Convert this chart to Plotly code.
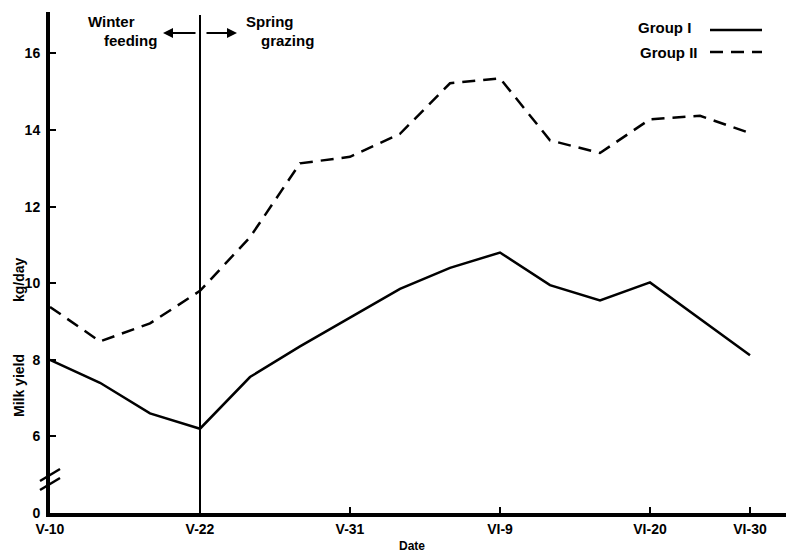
import plotly.graph_objects as go

# ---- data ----
x_index = list(range(15))
tick_positions = [0, 3, 6, 9, 12, 14]
tick_labels = ["V-10", "V-22", "V-31", "VI-9", "VI-20", "VI-30"]
group1 = [8.0, 7.4, 6.6, 6.2, 7.55, 8.35, 9.1, 9.85, 10.4, 10.8, 9.95, 9.55, 10.02, 9.07, 8.12]
group2 = [9.38, 8.48, 8.95, 9.8, 11.2, 13.13, 13.3, 13.9, 15.22, 15.35, 13.73, 13.4, 14.28, 14.37, 13.92]
y_tickvals = [4, 6, 8, 10, 12, 14, 16]
y_ticktext = ["0", "6", "8", "10", "12", "14", "16"]
switch_x = 3  # V-22

OFF = 8  # page body margin
W, H = 794 - OFF, 555 - OFF
L, R, T = 50 - OFF, 4, 12 - OFF
B = H - (513 - OFF)
PW, PH = W - L - R, H - T - B

def px(xp):
    return (xp - OFF - L) / PW

def py(yp):
    return (H - B - (yp - OFF)) / PH

FONT = "Liberation Sans"
DASH = "13px,8px"

fig = go.Figure()
fig.add_trace(go.Scatter(x=x_index, y=group1, mode="lines",
                         line=dict(color="black", width=2.5), showlegend=False))
fig.add_trace(go.Scatter(x=x_index, y=group2, mode="lines",
                         line=dict(color="black", width=2.5, dash=DASH), showlegend=False))

shapes = []
# switch line
shapes.append(dict(type="line", xref="x", yref="paper", x0=switch_x, x1=switch_x,
                   y0=0, y1=py(15), line=dict(color="black", width=2)))
# axis break slashes
for off in (0, 9):
    shapes.append(dict(type="line", xref="paper", yref="paper",
                       x0=px(40), y0=py(481 + off), x1=px(60), y1=py(469 + off),
                       line=dict(color="black", width=2.5)))
# legend lines
shapes.append(dict(type="line", xref="paper", yref="paper", x0=px(710), x1=px(762),
                   y0=py(30), y1=py(30), line=dict(color="black", width=2.5)))
shapes.append(dict(type="line", xref="paper", yref="paper", x0=px(710), x1=px(762),
                   y0=py(52), y1=py(52), line=dict(color="black", width=2.5, dash=DASH)))

annotations = []
def txt(s, x, y, size=15, angle=0):
    annotations.append(dict(text=s, xref="paper", yref="paper", x=px(x), y=py(y),
                            xanchor="center", yanchor="middle", showarrow=False,
                            textangle=angle,
                            font=dict(family=FONT, size=size, color="black", weight="bold")))

txt("Winter", 111, 21)
txt("feeding", 130, 41)
txt("Spring", 270, 21)
txt("grazing", 287, 41)
txt("Group I", 664, 28, size=15)
txt("Group II", 669, 52, size=15)
txt("Date", 412, 546, size=12)
txt("Milk yield", 19, 386, size=14, angle=-90)
txt("kg/day", 19, 280, size=14, angle=-90)

# arrows
annotations.append(dict(text="", xref="paper", yref="paper", x=px(163), y=py(33),
                        ax=34, ay=0, showarrow=True, arrowhead=2, arrowsize=1,
                        arrowwidth=2, arrowcolor="black"))
annotations.append(dict(text="", xref="paper", yref="paper", x=px(237), y=py(33),
                        ax=-32, ay=0, showarrow=True, arrowhead=2, arrowsize=1,
                        arrowwidth=2, arrowcolor="black"))

fig.update_layout(
    template="none",
    width=W, height=H,
    margin=dict(l=L, r=R, t=T, b=B, pad=0, autoexpand=False),
    paper_bgcolor="white", plot_bgcolor="white",
    font=dict(family=FONT, size=14, color="black", weight="bold"),
    shapes=shapes, annotations=annotations,
    xaxis=dict(range=[0, PW / 50], tickvals=tick_positions, ticktext=tick_labels,
               automargin=False,
               showgrid=False, zeroline=False, showline=True, linecolor="black",
               linewidth=4, ticks="inside", ticklen=6, tickwidth=2, tickcolor="black",
               tickfont=dict(family=FONT, size=14, weight="bold")),
    yaxis=dict(range=[4, 4 + PH / 38.3], tickvals=y_tickvals, ticktext=y_ticktext,
               automargin=False, ticklabelstandoff=3,
               showgrid=False, zeroline=False, showline=True, linecolor="black",
               linewidth=4, ticks="inside", ticklen=6, tickwidth=2, tickcolor="black",
               tickfont=dict(family=FONT, size=14, weight="bold")),
)

fig.write_html("out.html")
